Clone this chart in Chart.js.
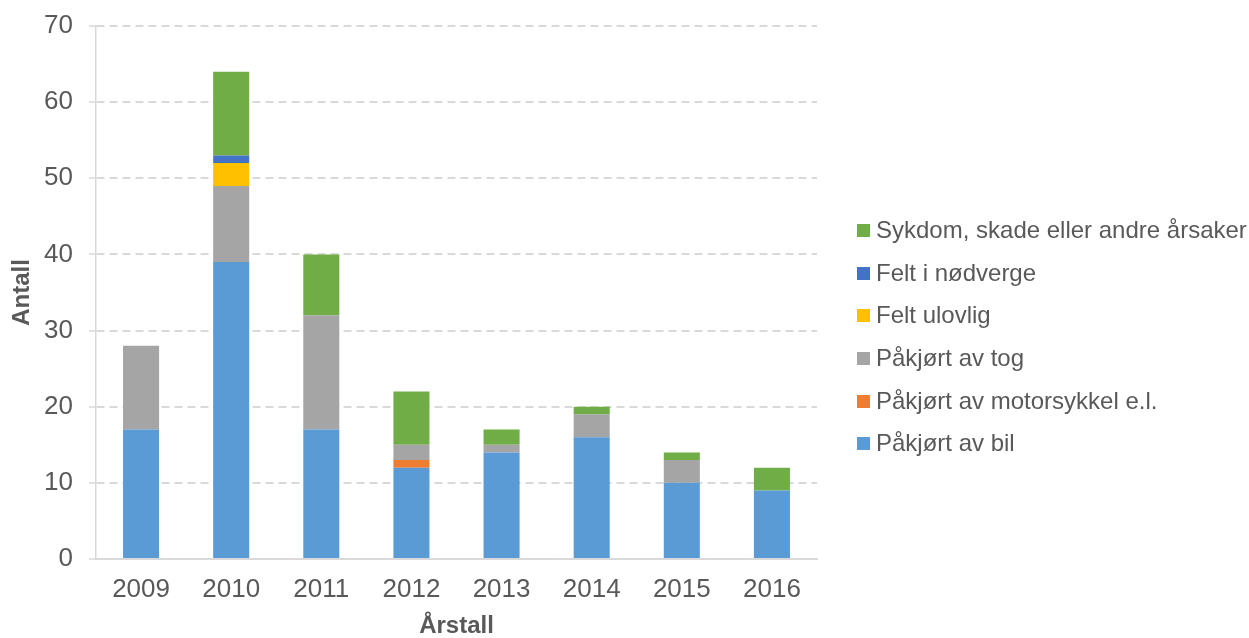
<!DOCTYPE html>
<html>
<head>
<meta charset="utf-8">
<script src="https://cdn.jsdelivr.net/npm/chart.js@4"></script>
<style>
  html, body { margin: 0; padding: 0; background: #fff; }
  #wrap { width: 1249px; height: 638px; position: relative; }
  #legend { position: absolute; left: 857px; top: 209px; margin: 0; padding: 0; list-style: none;
            font-family: 'Liberation Sans', Arial, sans-serif; font-size: 24px; color: #595959; }
  #legend li { height: 42.7px; line-height: 42.7px; white-space: nowrap; display: flex; align-items: center; }
  #legend .box { width: 13px; height: 13px; margin-right: 6px; display: inline-block; }
</style>
</head>
<body>
<div id="wrap">
  <canvas id="myChart"></canvas>
  <ul id="legend"></ul>
</div>
<script>
const years = ['2009', '2010', '2011', '2012', '2013', '2014', '2015', '2016'];
const bil = [17, 39, 17, 12, 14, 16, 10, 9];
const motorsykkel = [0, 0, 0, 1, 0, 0, 0, 0];
const tog = [11, 10, 15, 2, 1, 3, 3, 0];
const ulovlig = [0, 3, 0, 0, 0, 0, 0, 0];
const nodverge = [0, 1, 0, 0, 0, 0, 0, 0];
const sykdom = [0, 11, 8, 7, 2, 1, 1, 3];

const textColor = '#595959';
const gridColor = '#d9d9d9';
const fontFamily = 'Liberation Sans, Arial, sans-serif';

function makeSet(label, data, color) {
    return {
        label: label,
        data: data,
        backgroundColor: color,
        borderWidth: 0,
        barPercentage: 0.4,
        categoryPercentage: 1
    };
}

// legend as html list, top item = last dataset (like the stack order)
const htmlLegend = {
    id: 'htmlLegend',
    afterUpdate(chart) {
        const list = document.getElementById('legend');
        list.innerHTML = '';
        const items = chart.options.plugins.legend.labels.generateLabels(chart).reverse();
        items.forEach(item => {
            const li = document.createElement('li');
            const box = document.createElement('span');
            box.className = 'box';
            box.style.background = item.fillStyle;
            li.appendChild(box);
            li.appendChild(document.createTextNode(item.text));
            list.appendChild(li);
        });
    }
};

const ctx = document.getElementById('myChart').getContext('2d');
const myChart = new Chart(ctx, {
    type: 'bar',
    data: {
        labels: years,
        datasets: [
            makeSet('Påkjørt av bil', bil, '#5b9bd5'),
            makeSet('Påkjørt av motorsykkel e.l.', motorsykkel, '#ed7d31'),
            makeSet('Påkjørt av tog', tog, '#a5a5a5'),
            makeSet('Felt ulovlig', ulovlig, '#ffc000'),
            makeSet('Felt i nødverge', nodverge, '#4472c4'),
            makeSet('Sykdom, skade eller andre årsaker', sykdom, '#70ad47')
        ]
    },
    options: {
        responsive: true,
        maintainAspectRatio: false,
        animation: false,
        layout: {
            padding: { top: 0, right: 432, bottom: 0, left: 4 }
        },
        plugins: {
            tooltip: { enabled: false },
            legend: { display: false }
        },
        scales: {
            x: {
                stacked: true,
                grid: { display: false, drawTicks: false },
                border: { display: true, color: gridColor, width: 2 },
                ticks: {
                    color: textColor,
                    padding: 15,
                    font: { family: fontFamily, size: 26 }
                },
                title: {
                    display: true,
                    text: 'Årstall',
                    color: textColor,
                    padding: { top: 0, bottom: 0 },
                    font: { family: fontFamily, size: 24, weight: 'bold', lineHeight: 1 }
                },
                afterFit(scale) {
                    scale.height = 79;
                    scale.paddingLeft = 0;
                    scale.paddingRight = 0;
                }
            },
            y: {
                stacked: true,
                min: 0,
                max: 70,
                ticks: {
                    stepSize: 10,
                    color: textColor,
                    padding: 16,
                    font: { family: fontFamily, size: 26 }
                },
                grid: {
                    color: gridColor,
                    lineWidth: 2,
                    tickLength: 7,
                    tickColor: gridColor,
                    tickWidth: 1.5,
                    tickBorderDash: []
                },
                border: { display: true, color: gridColor, width: 1.5, dash: [8, 5] },
                title: {
                    display: true,
                    text: 'Antall',
                    color: textColor,
                    padding: { top: 6, bottom: 10 },
                    font: { family: fontFamily, size: 24, weight: 'bold', lineHeight: 1 }
                },
                afterFit(scale) {
                    scale.width = 92;
                    scale.paddingTop = 26;
                    scale.paddingBottom = 0;
                }
            }
        }
    },
    plugins: [htmlLegend]
});
</script>
</body>
</html>
